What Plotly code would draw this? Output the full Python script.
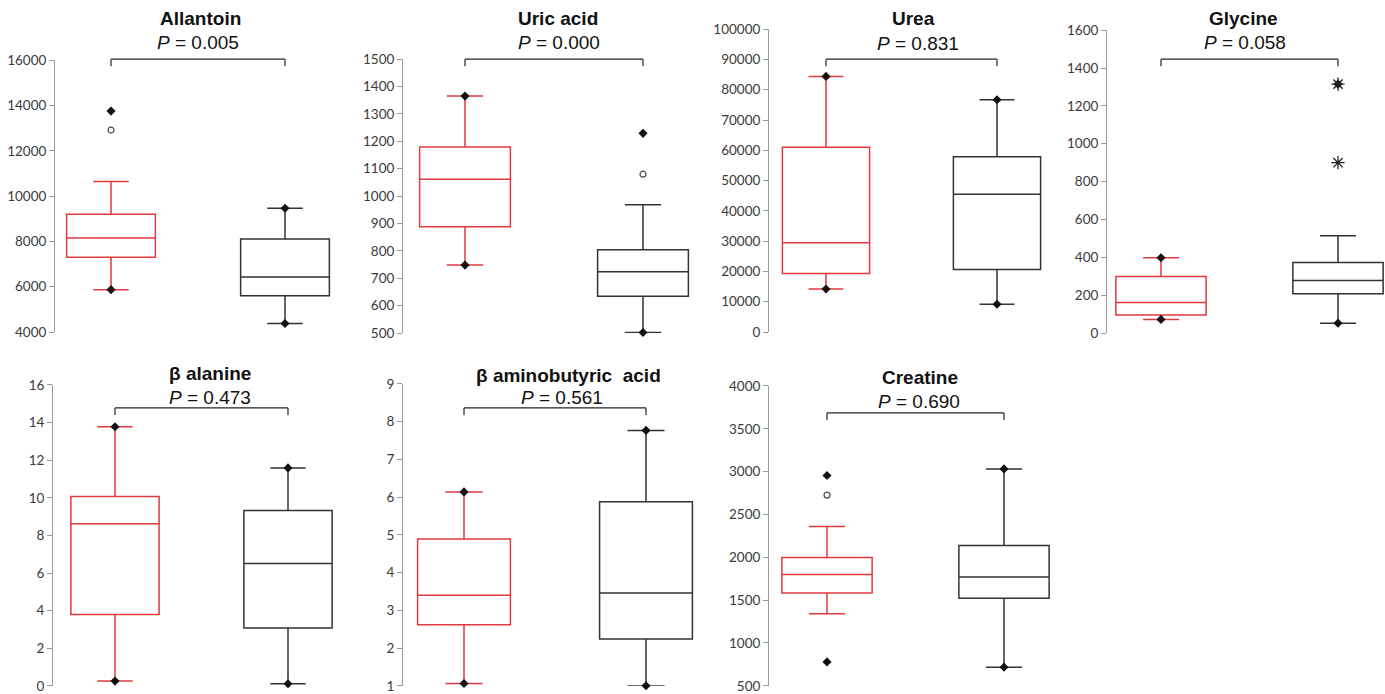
import plotly.graph_objects as go

# ---------------- data ----------------
metabolites = ["Allantoin", "Uric acid", "Urea", "Glycine",
               "β alanine", "β aminobutyric  acid", "Creatine"]
p_values = ["0.005", "0.000", "0.831", "0.058", "0.473", "0.561", "0.690"]

# y-axis tick values per panel
y_ticks = [
    [4000, 6000, 8000, 10000, 12000, 14000, 16000],
    [500, 600, 700, 800, 900, 1000, 1100, 1200, 1300, 1400, 1500],
    [0, 10000, 20000, 30000, 40000, 50000, 60000, 70000, 80000, 90000, 100000],
    [0, 200, 400, 600, 800, 1000, 1200, 1400, 1600],
    [0, 2, 4, 6, 8, 10, 12, 14, 16],
    [1, 2, 3, 4, 5, 6, 7, 8, 9],
    [500, 1000, 1500, 2000, 2500, 3000, 3500, 4000],
]

# red group (box statistics)
red_lower = [5870, 748, 14200, 72, 0.25, 1.06, 1340]
red_q1 = [7295, 888, 19300, 95, 3.79, 2.62, 1584]
red_median = [8155, 1061, 29500, 161, 8.62, 3.40, 1800]
red_q3 = [9200, 1179, 61000, 299, 10.07, 4.89, 1998]
red_upper = [10645, 1365, 84400, 398, 13.78, 6.14, 2359]
red_min = [5870, 748, 14200, 72, 0.25, 1.06, 779]
red_max = [13750, 1365, 84400, 398, 13.78, 6.14, 2955]
red_outliers = [[12915], [], [], [], [], [], [2726]]
red_extremes = [[], [], [], [], [], [], []]

# black group (box statistics)
blk_lower = [4375, 502, 9150, 52, 0.11, 1.0, 718]
blk_q1 = [5603, 634, 20600, 208, 3.07, 2.24, 1522]
blk_median = [6425, 724, 45450, 278, 6.51, 3.46, 1770]
blk_q3 = [8100, 804, 57900, 373, 9.33, 5.88, 2138]
blk_upper = [9465, 968, 76700, 514, 11.59, 7.77, 3032]
blk_min = [4375, 502, 9150, 52, 0.11, 1.0, 718]
blk_max = [9465, 1229, 76700, 1315, 11.59, 7.77, 3032]
blk_outliers = [[], [1080], [], [], [], [], []]
blk_extremes = [[], [], [], [900, 1315], [], [], []]

# ---------------- layout (pixel geometry) ----------------
W, H = 1385, 694
axis_px = [55, 403, 769, 1107, 53, 403, 769]
red_px = [111, 465, 826, 1161, 115, 464, 827]
blk_px = [285, 643, 997, 1338, 288, 646, 1004]
ytop_px = [60, 59, 29, 30, 385, 384, 386]
ybot_px = [332, 333, 332, 333, 686, 686, 686]
title_x_px = [200, 558, 913, 1243, 210, 568, 920]
p_x_px = [198, 559, 918, 1245, 210, 562, 919]
title_y_px = [18, 18, 18, 18, 374, 376, 378]
p_y_px = [42, 42, 43, 42, 398, 398, 402]
bracket_y_px = [59, 59, 59, 59, 408, 408, 413]

# the captured page is 16px taller than the figure (8px above) and scaled to 694
PAD = 8


def fy(y):
    yf = y * (H + 2 * PAD) / H - PAD
    return min(1.0, max(0.0, 1 - yf / H))


RED = "#e0393e"
BLK = "#333333"
AX = "#9a9a9a"
TICKFONT = dict(family="Lato, Open Sans, sans-serif", size=13.5, color="#3a3a3a")
TXTFONT = "Liberation Sans, Arial, sans-serif"

fig = go.Figure()
layout_axes = {}
annotations = []
shapes = []

for i in range(7):
    n = "" if i == 0 else str(i + 1)
    xr, yr = "x" + n, "y" + n
    unit = blk_px[i] - red_px[i]
    right = min(blk_px[i] + 58, W - 1)
    xmin = 1 - (red_px[i] - axis_px[i]) / unit
    xmax = 2 + (right - blk_px[i]) / unit
    layout_axes["xaxis" + n] = dict(domain=[axis_px[i] / W, right / W], range=[xmin, xmax],
                                    anchor=yr, visible=False, fixedrange=True)
    layout_axes["yaxis" + n] = dict(domain=[fy(ybot_px[i]), fy(ytop_px[i])],
                                    range=[y_ticks[i][0], y_ticks[i][-1]], anchor=xr,
                                    tickvals=y_ticks[i], ticktext=[str(v) for v in y_ticks[i]],
                                    showgrid=False, zeroline=False, showline=True,
                                    linecolor=AX, linewidth=1, ticks="outside", ticklen=5,
                                    tickcolor=AX, tickfont=TICKFONT, fixedrange=True)

    for pos, col, q1, med, q3, lo, up, mn, mx, outl, ext in [
        (1, RED, red_q1, red_median, red_q3, red_lower, red_upper, red_min, red_max, red_outliers, red_extremes),
        (2, BLK, blk_q1, blk_median, blk_q3, blk_lower, blk_upper, blk_min, blk_max, blk_outliers, blk_extremes),
    ]:
        fig.add_trace(go.Box(x=[pos], q1=[q1[i]], median=[med[i]], q3=[q3[i]],
                             lowerfence=[lo[i]], upperfence=[up[i]], width=0.51,
                             whiskerwidth=0.4, line=dict(color=col, width=1.5),
                             fillcolor="rgba(0,0,0,0)", boxpoints=False,
                             orientation="v", showlegend=False, hoverinfo="skip",
                             xaxis=xr, yaxis=yr))
        fig.add_trace(go.Scatter(x=[pos, pos], y=[mn[i], mx[i]], mode="markers",
                                 marker=dict(symbol="diamond", size=7, color="#111111"),
                                 showlegend=False, hoverinfo="skip", cliponaxis=False,
                                 xaxis=xr, yaxis=yr))
        if outl[i]:
            fig.add_trace(go.Scatter(x=[pos] * len(outl[i]), y=outl[i], mode="markers",
                                     marker=dict(symbol="circle-open", size=6, color="#444444",
                                                 line=dict(color="#444444", width=1.2)),
                                     showlegend=False, hoverinfo="skip",
                                     xaxis=xr, yaxis=yr))
        if ext[i]:
            fig.add_trace(go.Scatter(x=[pos] * len(ext[i]), y=ext[i], mode="markers",
                                     marker=dict(symbol="asterisk-open", size=11, color="#222222",
                                                 line=dict(color="#222222", width=1.3)),
                                     showlegend=False, hoverinfo="skip",
                                     xaxis=xr, yaxis=yr))

    # bracket
    by = fy(bracket_y_px[i])
    by2 = fy(bracket_y_px[i] + 7)
    for x0, y0, x1, y1 in [(1, by, 2, by), (1, by, 1, by2), (2, by, 2, by2)]:
        shapes.append(dict(type="line", xref=xr, yref="paper", x0=x0, y0=y0, x1=x1, y1=y1,
                           line=dict(color="#222222", width=1.2)))

    annotations.append(dict(xref="paper", yref="paper", x=title_x_px[i] / W, y=fy(title_y_px[i]),
                            text="<b>" + metabolites[i] + "</b>", showarrow=False,
                            xanchor="center", yanchor="middle",
                            font=dict(family=TXTFONT, size=19, color="#111111")))
    annotations.append(dict(xref="paper", yref="paper", x=p_x_px[i] / W, y=fy(p_y_px[i]),
                            text="<i>P</i> = " + p_values[i], showarrow=False,
                            xanchor="center", yanchor="middle",
                            font=dict(family=TXTFONT, size=19, color="#111111")))

fig.update_layout(width=W, height=H, margin=dict(l=0, r=0, t=0, b=0),
                  paper_bgcolor="white", plot_bgcolor="white",
                  annotations=annotations, shapes=shapes, **layout_axes)

fig.write_html("out.html", config={"displayModeBar": False})
with open("out.html", "r", encoding="utf-8") as f:
    html = f.read()
css = "<style>html,body{margin:0;padding:0;overflow:hidden;}</style>"
if "<head>" in html:
    html = html.replace("<head>", "<head>" + css, 1)
else:
    html = css + html
with open("out.html", "w", encoding="utf-8") as f:
    f.write(html)
